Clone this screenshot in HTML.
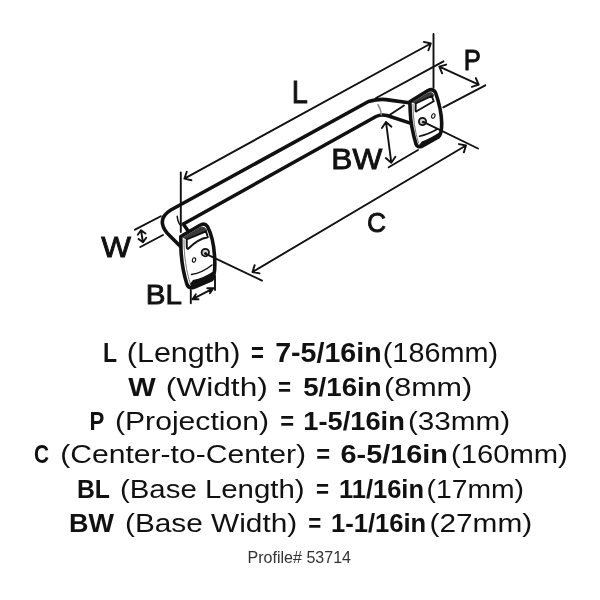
<!DOCTYPE html>
<html><head><meta charset="utf-8"><style>html,body{margin:0;padding:0;background:#fff;width:600px;height:600px;overflow:hidden}svg{display:block;will-change:transform}text{font-family:"Liberation Sans",sans-serif;white-space:pre}</style></head>
<body><svg width="600" height="600" viewBox="0 0 600 600">
<g fill="none" stroke="#111" stroke-width="1.9" stroke-linecap="round" stroke-linejoin="round"><path d="M180.8,172.5 V232"/><path d="M433.5,34 V87.5"/><path d="M376,98 L443.5,61.3"/><path d="M443.3,107.3 L485.3,85.3"/><path d="M388,116 L404,105.5"/><path d="M388.7,167.3 L418,150"/><path d="M135,229.7 L160.8,216.25"/><path d="M140.3,247 L163,235"/><path d="M190.8,290 V303.3"/><path d="M215,276 V290"/><path d="M184.40,178.60 L430.80,43.50 M423.79,41.85 L430.80,43.50 L428.42,50.30 M191.41,180.25 L184.40,178.60 L186.78,171.80"/><path d="M439.30,66.70 L478.70,84.70 M475.84,78.09 L478.70,84.70 L471.83,86.86 M442.16,73.31 L439.30,66.70 L446.17,64.54"/><path d="M386.00,122.00 L391.30,162.70 M395.39,156.77 L391.30,162.70 L385.83,158.02 M381.91,127.93 L386.00,122.00 L391.47,126.68"/><path d="M252.50,272.00 L466.00,145.50 M458.94,144.08 L466.00,145.50 L463.85,152.37 M259.56,273.42 L252.50,272.00 L254.65,265.13"/><path d="M141.00,230.30 L143.00,242.30 M146.20,237.82 L143.00,242.30 L138.52,239.10 M137.80,234.78 L141.00,230.30 L145.48,233.50"/><path d="M192.50,299.20 L213.30,288.30 M207.30,288.26 L213.30,288.30 L209.92,293.25 M198.50,299.24 L192.50,299.20 L195.88,294.25"/></g>
<g fill="none" stroke="#111" stroke-width="3.6" stroke-linecap="round" stroke-linejoin="round">
 <path d="M411,103 L386,99.6 Q378,98.8 368.5,101.5 L170.8,210 Q161,216 162.5,224 Q163.5,230 170,236 L180,246"/>
 <path d="M411,123.4 L387,115.5 Q381,114 376,116.5 L183.3,224 L188.5,231.5"/>
</g>
<g fill="none" stroke="#111" stroke-width="1.5" stroke-linecap="round">
 <path d="M177.2,216.3 Q177.8,222.5 180.8,225.8"/>
 <path stroke="#888" d="M378,104.7 Q381,109 381.3,114.7"/>
</g>
<!-- left plate -->
<g stroke="#111" stroke-linejoin="round" stroke-linecap="round">
 <path fill="#fff" stroke-width="3.6" d="M180.8,236.5 L199.5,225.5 Q204.5,222.5 207.5,226.5 C211.5,234 214.5,248 214.8,262 C215,270 214.5,276 212,279.5 L194,287.3 Q189,289 187,284.5 C184,275 181.5,262 181,250 Q180.8,240 180.8,236.5 Z"/>
 <path fill="none" stroke="#777" stroke-width="1" d="M184,240 C184,255 186,271 190.5,284"/>
 <path fill="#3a3a3a" stroke="none" d="M182.5,237.4 L199.8,227.2 Q204,225.6 206.5,229.2 L207,231.2 L186.5,239.8 Z"/>
 <path fill="#fff" stroke-width="1.9" d="M186.7,239.5 L206,231.3 L207.8,237.3 Q198,239 188.5,248.5 Q187,249.5 186.8,247.5 Z"/>
 <path fill="none" stroke-width="1.5" d="M191.5,274.5 Q202,273 212,265"/>
 <path fill="#111" stroke="none" d="M193,280 Q203.5,278 213.5,271.2 L214,276 Q213,279 210,281 L195,286.5 Q191,287.5 190,284 Z"/>
 <circle cx="205.3" cy="252.6" r="3.7" fill="#d0d0d0" stroke-width="1.8"/>
 <circle cx="205.5" cy="253.4" r="1.3" fill="#333" stroke="none"/>
 <ellipse cx="194" cy="260" rx="1.6" ry="2.2" fill="#fff" stroke-width="1.1" transform="rotate(15 194 260)"/>
</g>
<!-- right plate -->
<g stroke="#111" stroke-linejoin="round" stroke-linecap="round">
 <path fill="#fff" stroke-width="3.6" d="M409.8,101.8 L428,90.5 Q433,88 435.5,92.5 C438.5,101 441.5,113 441.7,123 C441.8,130 441,134.5 438.5,137 L422,146.3 Q417.5,148 416,144 C413,134 410.5,121 410.2,111 Q410,104 409.8,101.8 Z"/>
 <path fill="none" stroke="#777" stroke-width="1" d="M413,104.5 C413,118 415,132 418.5,143"/>
 <path fill="#3a3a3a" stroke="none" d="M411.5,102.4 L428.3,92.6 Q432,91 433.8,94.5 L434,96.6 L415.5,103.8 Z"/>
 <path fill="#fff" stroke-width="1.9" d="M415.7,103.5 L431.8,96 L433.7,101.3 L416.5,111.3 Q415.5,111.8 415.6,110.3 Z"/>
 <path fill="none" stroke-width="1.5" d="M419.5,136.3 Q428,134.5 437.5,129"/>
 <path fill="#111" stroke="none" d="M421.8,141.6 Q429.5,138.8 438.8,132.8 L440.5,134 Q440.5,136.5 438,138.5 L423,146.3 Q419.5,147.5 419,145 Z"/>
 <circle cx="422.5" cy="121.5" r="3.6" fill="#d0d0d0" stroke-width="1.8"/>
 <circle cx="423.2" cy="122.2" r="1.3" fill="#333" stroke="none"/>
 <ellipse cx="433.3" cy="116" rx="1.6" ry="2.3" fill="#fff" stroke-width="1.1" transform="rotate(20 433.3 116)"/>
</g>

<g fill="none" stroke="#111" stroke-width="1.9" stroke-linecap="round"><path d="M205.3,253.6 L262,280.6"/><path d="M423.3,121.9 L478,148.5"/></g>
<text id="t0" x="102.92" y="362.00" font-size="27.33" font-weight="700" fill="#111" textLength="14.08" lengthAdjust="spacingAndGlyphs">L</text>
<text id="t1" x="126.78" y="362.00" font-size="27.33" font-weight="400" fill="#111" textLength="113.66" lengthAdjust="spacingAndGlyphs">(Length)</text>
<text id="t2" x="250.98" y="362.00" font-size="27.33" font-weight="700" fill="#111" textLength="12.88" lengthAdjust="spacingAndGlyphs">=</text>
<text id="t3" x="275.19" y="362.00" font-size="27.33" font-weight="700" fill="#111" textLength="106.43" lengthAdjust="spacingAndGlyphs">7-5/16in</text>
<text id="t4" x="382.78" y="362.00" font-size="27.33" font-weight="400" fill="#111" textLength="115.24" lengthAdjust="spacingAndGlyphs">(186mm)</text>
<text id="t5" x="128.19" y="395.50" font-size="26.45" font-weight="700" fill="#111" textLength="27.44" lengthAdjust="spacingAndGlyphs">W</text>
<text id="t6" x="165.77" y="395.50" font-size="26.45" font-weight="400" fill="#111" textLength="102.07" lengthAdjust="spacingAndGlyphs">(Width)</text>
<text id="t7" x="278.00" y="395.50" font-size="26.45" font-weight="700" fill="#111" textLength="13.04" lengthAdjust="spacingAndGlyphs">=</text>
<text id="t8" x="303.19" y="395.50" font-size="26.45" font-weight="700" fill="#111" textLength="78.42" lengthAdjust="spacingAndGlyphs">5/16in</text>
<text id="t9" x="383.98" y="395.50" font-size="26.45" font-weight="400" fill="#111" textLength="88.26" lengthAdjust="spacingAndGlyphs">(8mm)</text>
<text id="t10" x="89.58" y="430.00" font-size="26.60" font-weight="700" fill="#111" textLength="14.82" lengthAdjust="spacingAndGlyphs">P</text>
<text id="t11" x="114.99" y="430.00" font-size="26.60" font-weight="400" fill="#111" textLength="154.03" lengthAdjust="spacingAndGlyphs">(Projection)</text>
<text id="t12" x="280.17" y="430.00" font-size="26.60" font-weight="700" fill="#111" textLength="13.87" lengthAdjust="spacingAndGlyphs">=</text>
<text id="t13" x="303.39" y="430.00" font-size="26.60" font-weight="700" fill="#111" textLength="101.44" lengthAdjust="spacingAndGlyphs">1-5/16in</text>
<text id="t14" x="407.98" y="430.00" font-size="26.60" font-weight="400" fill="#111" textLength="102.25" lengthAdjust="spacingAndGlyphs">(33mm)</text>
<text id="t15" x="34.00" y="463.20" font-size="26.16" font-weight="700" fill="#111" textLength="15.00" lengthAdjust="spacingAndGlyphs">C</text>
<text id="t16" x="60.19" y="463.20" font-size="26.16" font-weight="400" fill="#111" textLength="245.82" lengthAdjust="spacingAndGlyphs">(Center-to-Center)</text>
<text id="t17" x="316.17" y="463.20" font-size="26.16" font-weight="700" fill="#111" textLength="13.87" lengthAdjust="spacingAndGlyphs">=</text>
<text id="t18" x="340.59" y="463.20" font-size="26.16" font-weight="700" fill="#111" textLength="107.43" lengthAdjust="spacingAndGlyphs">6-5/16in</text>
<text id="t19" x="450.98" y="463.20" font-size="26.16" font-weight="400" fill="#111" textLength="116.83" lengthAdjust="spacingAndGlyphs">(160mm)</text>
<text id="t20" x="76.97" y="497.70" font-size="26.16" font-weight="700" fill="#111" textLength="33.03" lengthAdjust="spacingAndGlyphs">BL</text>
<text id="t21" x="119.99" y="497.70" font-size="26.16" font-weight="400" fill="#111" textLength="184.62" lengthAdjust="spacingAndGlyphs">(Base Length)</text>
<text id="t22" x="316.00" y="497.70" font-size="26.16" font-weight="700" fill="#111" textLength="13.04" lengthAdjust="spacingAndGlyphs">=</text>
<text id="t23" x="338.98" y="497.70" font-size="26.16" font-weight="700" fill="#111" textLength="85.04" lengthAdjust="spacingAndGlyphs">11/16in</text>
<text id="t24" x="426.57" y="497.70" font-size="26.16" font-weight="400" fill="#111" textLength="97.45" lengthAdjust="spacingAndGlyphs">(17mm)</text>
<text id="t25" x="68.97" y="531.50" font-size="26.16" font-weight="700" fill="#111" textLength="45.03" lengthAdjust="spacingAndGlyphs">BW</text>
<text id="t26" x="124.99" y="531.50" font-size="26.16" font-weight="400" fill="#111" textLength="172.23" lengthAdjust="spacingAndGlyphs">(Base Width)</text>
<text id="t27" x="308.20" y="531.50" font-size="26.16" font-weight="700" fill="#111" textLength="13.04" lengthAdjust="spacingAndGlyphs">=</text>
<text id="t28" x="330.98" y="531.50" font-size="26.16" font-weight="700" fill="#111" textLength="95.23" lengthAdjust="spacingAndGlyphs">1-1/16in</text>
<text id="t29" x="429.56" y="531.50" font-size="26.16" font-weight="400" fill="#111" textLength="102.66" lengthAdjust="spacingAndGlyphs">(27mm)</text>
<text id="t30" x="247.59" y="563.00" font-size="15.99" font-weight="400" fill="#333" textLength="103.41" lengthAdjust="spacingAndGlyphs">Profile# 53714</text>
<text id="t31" x="291.70" y="103.30" font-size="30.52" font-weight="400" fill="#111" textLength="16.11" lengthAdjust="spacingAndGlyphs" stroke="#111" stroke-width="0.90">L</text>
<text id="t32" x="463.71" y="70.00" font-size="28.78" font-weight="400" fill="#111" textLength="17.07" lengthAdjust="spacingAndGlyphs" stroke="#111" stroke-width="0.90">P</text>
<text id="t33" x="331.38" y="168.60" font-size="29.22" font-weight="400" fill="#111" textLength="50.83" lengthAdjust="spacingAndGlyphs" stroke="#111" stroke-width="0.90">BW</text>
<text id="t34" x="367.00" y="232.30" font-size="28.49" font-weight="400" fill="#111" textLength="19.03" lengthAdjust="spacingAndGlyphs" stroke="#111" stroke-width="0.90">C</text>
<text id="t35" x="101.17" y="257.00" font-size="28.78" font-weight="400" fill="#111" textLength="29.67" lengthAdjust="spacingAndGlyphs" stroke="#111" stroke-width="0.90">W</text>
<text id="t36" x="145.78" y="304.20" font-size="27.76" font-weight="400" fill="#111" textLength="36.21" lengthAdjust="spacingAndGlyphs" stroke="#111" stroke-width="0.90">BL</text>
</svg></body></html>
